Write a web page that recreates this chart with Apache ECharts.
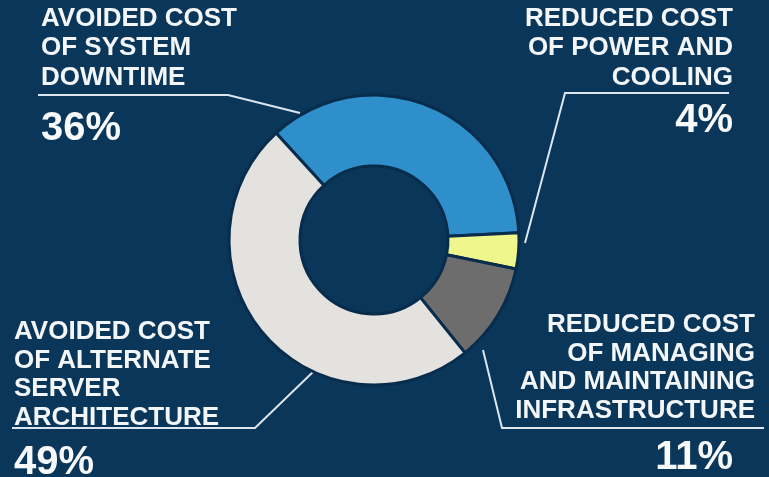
<!DOCTYPE html>
<html>
<head>
<meta charset="utf-8">
<script src="https://cdn.jsdelivr.net/npm/echarts@6/dist/echarts.min.js"></script>
<style>
html,body{margin:0;padding:0;background:#0a365a;}
#c{width:769px;height:477px;}
</style>
</head>
<body>
<div id="c"></div>
<script>
const categories = [
  'AVOIDED COST\nOF SYSTEM\nDOWNTIME',
  'REDUCED COST\nOF POWER AND\nCOOLING',
  'REDUCED COST\nOF MANAGING\nAND MAINTAINING\nINFRASTRUCTURE',
  'AVOIDED COST\nOF ALTERNATE\nSERVER\nARCHITECTURE'
];
const values = [36, 4, 11, 49];

const sliceColors = ['#2f8fca', '#eef68c', '#6d6d6d', '#e4e2df'];
// label layout: top-left y, anchor x, alignment, line height, gap, percent right padding, leader points
const layouts = [
  {x: 41, y: 4, align: 'left', lh: 29.5, gap: 14, pad: 0, pts: [[300,113],[228,95],[38,95]]},
  {x: 733, y: 4, align: 'right', lh: 29.5, gap: 6, pad: 0, pts: [[525,243],[565,93],[729,93]]},
  {x: 755, y: 311, align: 'right', lh: 28.5, gap: 11, pad: 22, pts: [[483,350],[502,428],[764,428]]},
  {x: 14, y: 318, align: 'left', lh: 28.5, gap: 9, pad: 0, pts: [[315,370],[255,428],[12,428]]}
];

const font = "'Liberation Sans', Arial, sans-serif";
const data = categories.map((name, i) => {
  const L = layouts[i];
  return {
    name: name,
    value: values[i],
    itemStyle: {color: sliceColors[i]},
    label: {
      formatter: function (p) {
        return '{t|' + p.name + '}\n{g| }\n{p|' + p.value + '%}';
      },
      rich: {
        t: {fontSize: 26, fontWeight: 'bold', color: '#f3f6f9', lineHeight: L.lh, fontFamily: font, align: L.align},
        g: {fontSize: 1, lineHeight: L.gap, align: L.align},
        p: {fontSize: 40, fontWeight: 'bold', color: '#f7f9fb', lineHeight: 44, fontFamily: font, align: L.align, padding: [0, L.pad, 0, 0]}
      }
    }
  };
});

const chart = echarts.init(document.getElementById('c'));
chart.setOption({
  backgroundColor: '#0a365a',
  animation: false,
  series: [{
    type: 'pie',
    center: [374, 240],
    radius: [74, 145],
    startAngle: 132.5,
    clockwise: true,
    avoidLabelOverlap: false,
    itemStyle: {borderColor: '#082c4b', borderWidth: 3},
    label: {show: true, position: 'outside'},
    labelLine: {show: true, length: 10, length2: 10, smooth: false,
      lineStyle: {color: '#dde6ee', width: 2}},
    emphasis: {disabled: true},
    labelLayout: function (params) {
      const L = layouts[params.dataIndex];
      return {
        x: L.x,
        y: L.y,
        align: L.align,
        verticalAlign: 'top',
        labelLinePoints: L.pts
      };
    },
    data: data
  }]
});
</script>
</body>
</html>
